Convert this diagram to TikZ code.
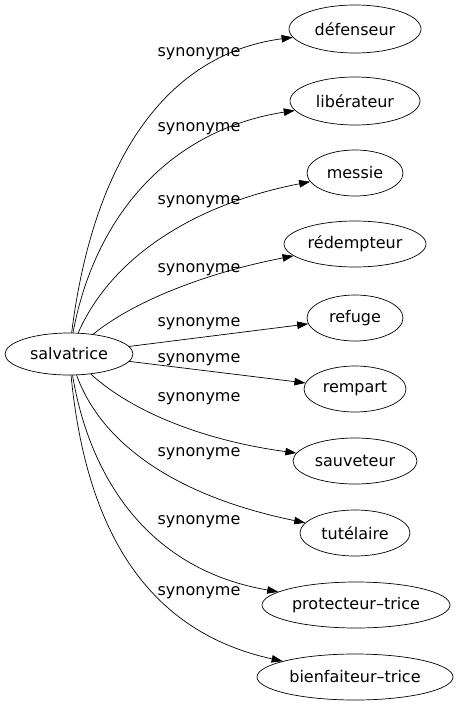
\documentclass[tikz,border=0pt]{standalone}
\usepackage{fontspec}
\setmainfont{DejaVu Sans}
\usetikzlibrary{shapes.geometric,arrows.meta}
\begin{document}
\begin{tikzpicture}[x=1pt,y=-1pt,
  word/.style={draw,ellipse,font=\fontsize{16}{18}\selectfont,inner sep=0pt,line width=0.7pt},
  lab/.style={font=\fontsize{16}{18}\selectfont,inner sep=0pt},
  edge/.style={-{Triangle[length=11pt,width=7.5pt]},line width=0.7pt}]
\useasboundingbox (0,0) rectangle (459,707);
\node[word,minimum width=128pt,minimum height=42pt] (s) at (69,354) {salvatrice};
\node[word,minimum width=132pt,minimum height=48pt] (t1) at (355,29) {défenseur};
\node[word,minimum width=130pt,minimum height=48pt] (t2) at (355,101) {libérateur};
\node[word,minimum width=96pt,minimum height=46pt] (t3) at (355,173) {messie};
\node[word,minimum width=142pt,minimum height=46pt] (t4) at (355,244) {rédempteur};
\node[word,minimum width=96pt,minimum height=46pt] (t5) at (355,318) {refuge};
\node[word,minimum width=102pt,minimum height=46pt] (t6) at (355,389) {rempart};
\node[word,minimum width=124pt,minimum height=46pt] (t7) at (355,461) {sauveteur};
\node[word,minimum width=110pt,minimum height=46pt] (t8) at (355,533) {tutélaire};
\node[word,minimum width=188pt,minimum height=46pt] (t9) at (356,605) {protecteur–trice};
\node[word,minimum width=196pt,minimum height=46pt] (t10) at (355,677) {bienfaiteur–trice};
\draw[edge] (s) .. controls (92,170) and (160,55) .. (t1);
\draw[edge] (s) .. controls (95,215) and (170,130) .. (t2);
\draw[edge] (s) .. controls (110,260) and (190,205) .. (t3);
\draw[edge] (s) .. controls (135,300) and (210,272) .. (t4);
\draw[edge] (s) -- (t5);
\draw[edge] (s) -- (t6);
\draw[edge] (s) .. controls (130,410) and (200,440) .. (t7);
\draw[edge] (s) .. controls (100,440) and (170,495) .. (t8);
\draw[edge] (s) .. controls (90,480) and (150,570) .. (t9);
\draw[edge] (s) .. controls (85,520) and (140,630) .. (t10);
\node[lab] (l1) at (199,54) {synonyme};
\node[lab] (l2) at (199,129) {synonyme};
\node[lab] (l3) at (199,202) {synonyme};
\node[lab] (l4) at (199,270) {synonyme};
\node[lab] (l5) at (199,324) {synonyme};
\node[lab] (l6) at (199,360) {synonyme};
\node[lab] (l7) at (199,399) {synonyme};
\node[lab] (l8) at (199,454) {synonyme};
\node[lab] (l9) at (199,522) {synonyme};
\node[lab] (l10) at (199,593) {synonyme};
\end{tikzpicture}
\end{document}
